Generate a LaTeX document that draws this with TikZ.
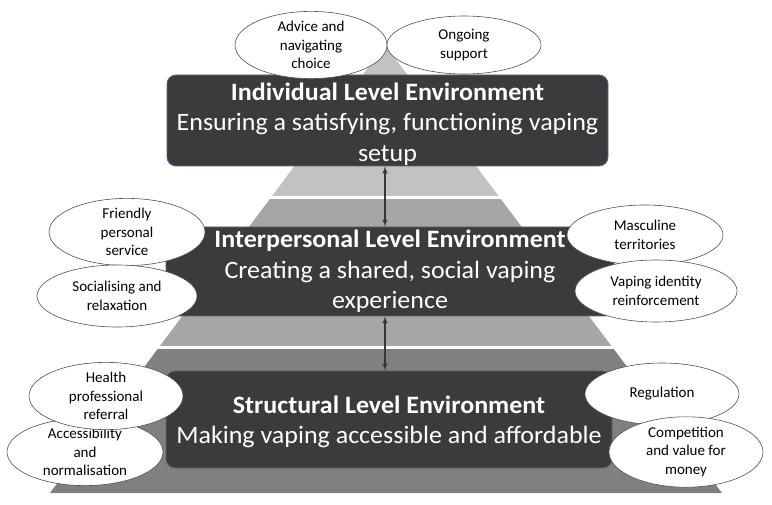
\documentclass[tikz,border=0pt]{standalone}
\usepackage{fontspec}
\setmainfont{Carlito}
\newfontfamily\boxfont{Carlito}[FakeStretch=1.04]
\usepackage{tikz}
\usetikzlibrary{arrows,shapes.geometric}

\definecolor{boxfill}{RGB}{59,59,59}
\definecolor{boxline}{RGB}{74,106,133}
\definecolor{tiertop}{RGB}{194,194,194}
\definecolor{tiermid}{RGB}{166,166,166}
\definecolor{tierbot}{RGB}{128,128,128}
\definecolor{ovalline}{RGB}{80,80,80}
\definecolor{linkcol}{RGB}{55,55,55}

\begin{document}
\begin{tikzpicture}[x=1pt,y=-1pt]
\tikzset{level/.style = {shape=rectangle,rounded corners=9pt,draw=boxline,line width=0.8pt,fill=boxfill,text=white,align=center,inner sep=0pt,font=\boxfont\fontsize{25}{30.5}\selectfont}}
\tikzset{theme/.style = {shape=ellipse,draw=ovalline,line width=0.6pt,fill=white,align=center,inner sep=0pt,font=\fontsize{15}{18.5}\selectfont}}
\tikzset{link/.style = {<->,> = latex',line width=1.5pt,draw=linkcol}}
\useasboundingbox (0,0) rectangle (772,505);

% pyramid
\begin{scope}
\clip (385,45) -- (50,493) -- (722,493) -- cycle;
\fill[tiertop] (0,0) rectangle (772,196);
\fill[tiermid] (0,199) rectangle (772,346);
\fill[tierbot] (0,349) rectangle (772,505);
\end{scope}

\node[level,minimum width=441pt,minimum height=91pt] (ind) at (387.5,120.5)
  {\rule{0pt}{25pt}\textbf{Individual Level Environment}\\Ensuring a satisfying, functioning vaping\\setup};
\node[level,minimum width=448pt,minimum height=89pt] (inter) at (390,271.5)
  {\textbf{Interpersonal Level Environment}\\Creating a shared, social vaping\\experience};
\node[level,minimum width=446pt,minimum height=97pt] (struct) at (389,419.5)
  {\rule{0pt}{22pt}\textbf{Structural Level Environment}\\Making vaping accessible and affordable};

\draw[link] (ind.south -| 385,0) -- (inter.north -| 385,0);
\draw[link] (inter.south -| 385,0) -- (struct.north -| 385,0);

\node[theme,minimum width=152pt,minimum height=58pt] (adv) at (311,45) {Advice and\\navigating\\choice};
\node[theme,minimum width=154pt,minimum height=58pt] (ong) at (464,45) {Ongoing\\support};

\node[theme,minimum width=156pt,minimum height=60pt] (fri) at (127,232) {Friendly\\personal\\service};
\node[theme,minimum width=160pt,minimum height=62pt] (soc) at (117,296) {Socialising and\\relaxation};
\node[theme,minimum width=156pt,minimum height=60pt] (mas) at (645,235) {Masculine\\territories};
\node[theme,minimum width=162pt,minimum height=62pt] (vap) at (656,291) {Vaping identity\\reinforcement};

\node[theme,minimum width=156pt,minimum height=66pt] (acc) at (85,452) {Accessibility\\and\\normalisation};
\node[theme,minimum width=154pt,minimum height=58pt] (hea) at (106,396) {Health\\professional\\referral};
\node[theme,minimum width=154pt,minimum height=62pt] (reg) at (662,394) {Regulation};
\node[theme,minimum width=154pt,minimum height=64pt] (com) at (686,452) {Competition\\and value for\\money};
\end{tikzpicture}
\end{document}
